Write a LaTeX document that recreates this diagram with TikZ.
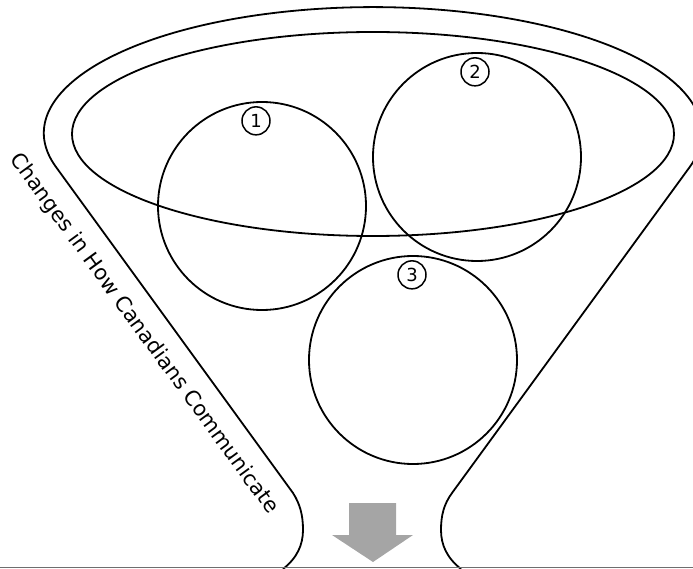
\documentclass[tikz,border=0pt]{standalone}
\usepackage{fontspec}
\setsansfont{DejaVu Sans}
\usetikzlibrary{positioning}
\definecolor{arrowgray}{HTML}{A5A5A5}
\definecolor{rulegray}{HTML}{6E6E6E}

\begin{document}
\begin{tikzpicture}[x=1pt,y=-1pt,
  outline/.style={line width=1.8pt},
  stage/.style={outline,circle,draw,minimum size=208pt,inner sep=0pt},
  num/.style={circle,draw,line width=1.5pt,minimum size=28pt,inner sep=0pt,
    font=\sffamily\fontsize{18}{18}\selectfont}]
  \useasboundingbox (0,0) rectangle (693,569);

  % funnel outline
  \draw[outline] (283,569) .. controls (297,558) and (303,545) .. (303,530)
    .. controls (303,515) and (300,504) .. (293,493)
    -- (56,167) arc[start angle=164.4,end angle=375.6,x radius=329,y radius=126]
    -- (452,493) .. controls (444,504) and (441,515) .. (441,530)
    .. controls (441,545) and (447,558) .. (461,569);
  \draw[outline] (373,134) ellipse[x radius=301,y radius=102];

  % stages
  \node[stage] (c1) at (262,206) {};
  \node[stage] (c2) at (477,157) {};
  \node[stage] (c3) at (413,360) {};
  \node[num,below=5pt of c1.north,xshift=-6pt] (n1) {1};
  \node[num,below=5pt of c2.north,xshift=-2pt] (n2) {2};
  \node[num,below=5pt of c3.north,xshift=-1pt] (n3) {3};

  \node[rotate=-53.9,font=\sffamily\fontsize{21}{21}\selectfont] (title)
    at (144,334) {Changes in How Canadians Communicate};

  % output arrow
  \fill[arrowgray] (349,503) -- (396,503) -- (396,535) -- (413,535)
    -- (373,562) -- (332,535) -- (349,535) -- cycle;
  \draw[rulegray,line width=1.5pt] (0,567.5) -- (693,567.5);
\end{tikzpicture}
\end{document}
